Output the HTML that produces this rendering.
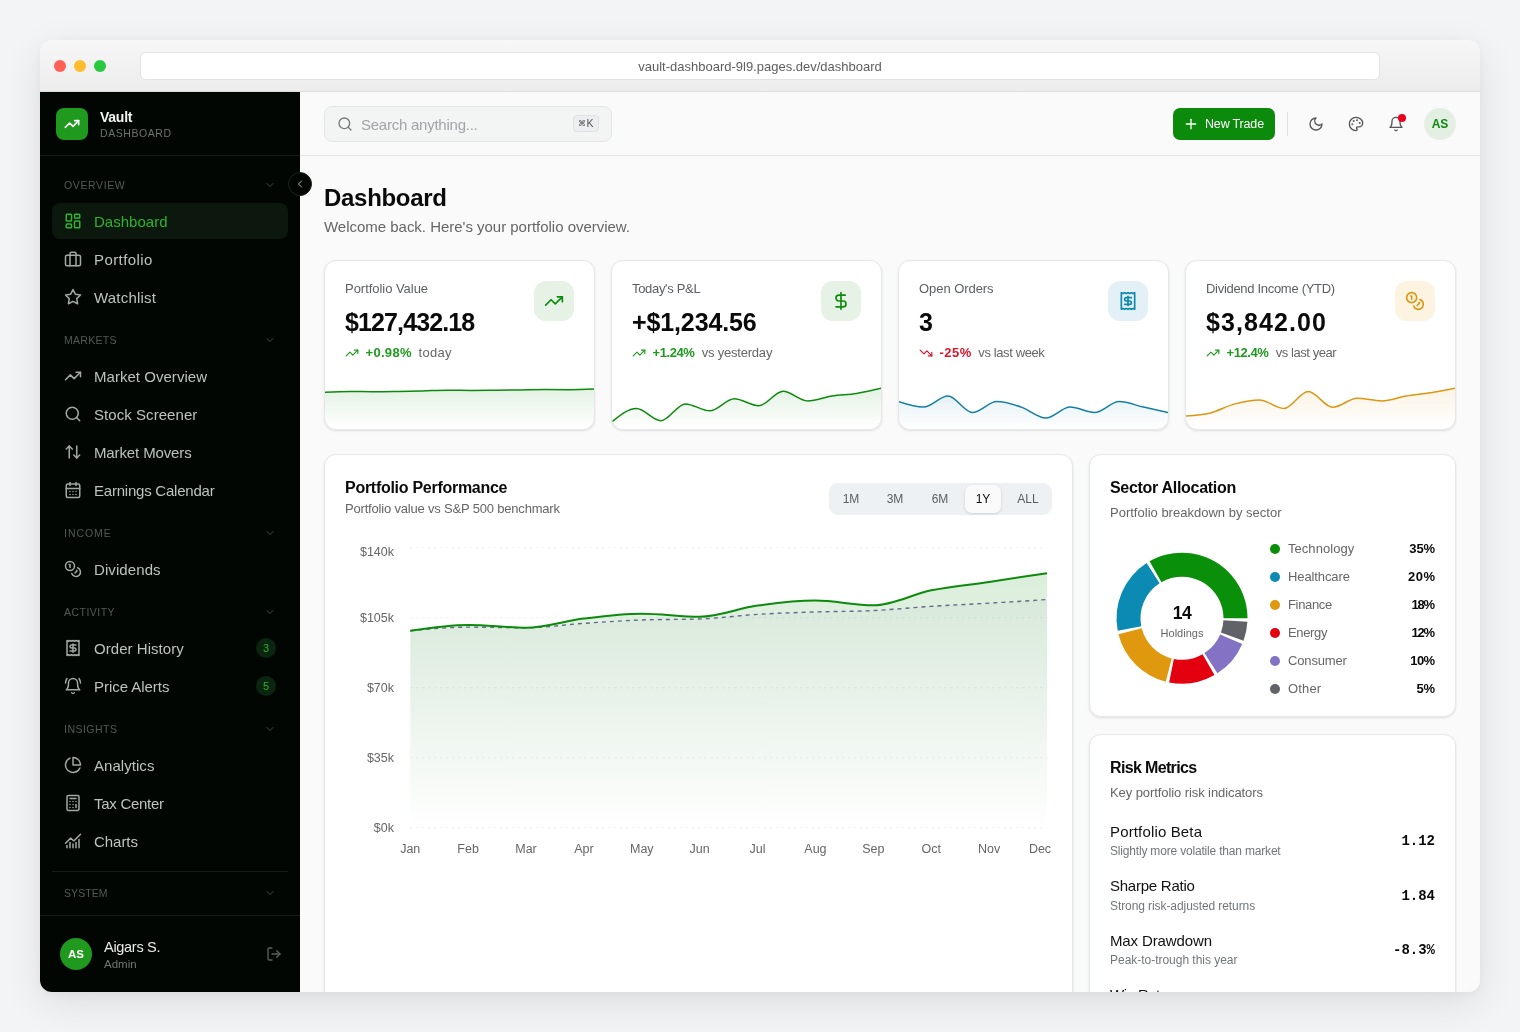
<!DOCTYPE html>
<html lang="en">
<head>
<meta charset="utf-8">
<title>Vault Dashboard</title>
<style>
*{box-sizing:border-box;margin:0;padding:0}
html,body{width:1520px;height:1032px;overflow:hidden}
body{background:#f3f4f6;font-family:"Liberation Sans",sans-serif;color:#0a0a0a;position:relative}
svg{display:block}
.ic{fill:none;stroke:currentColor;stroke-width:2;stroke-linecap:round;stroke-linejoin:round}
.win{position:absolute;left:40px;top:40px;width:1440px;height:952px;border-radius:12px;overflow:hidden;background:#fafafa;box-shadow:0 12px 40px rgba(0,0,0,.09),0 2px 8px rgba(0,0,0,.04)}
.tbar{position:absolute;left:0;top:0;width:1440px;height:52px;background:linear-gradient(#f7f7f7,#ececec);border-bottom:1px solid #dcdcdc}
.dot{position:absolute;top:20px;width:12px;height:12px;border-radius:50%}
.url{position:absolute;left:100px;top:12px;width:1240px;height:28px;background:#fff;border:1px solid #e2e2e2;border-radius:6px;text-align:center;font-size:13px;line-height:27px;color:#5e5e5e}
/* sidebar */
.sb{position:absolute;left:0;top:52px;width:260px;height:900px;background:#020602;color:#c4c8c4}
.sbh{position:absolute;left:0;top:0;width:260px;height:64px;border-bottom:1px solid #161c16}
.logo{position:absolute;left:16px;top:16px;width:32px;height:32px;border-radius:8px;background:#1f9a1f;color:#fff}
.logo svg{position:absolute;left:8px;top:8px;width:16px;height:16px}
.brand{position:absolute;left:60px;top:16px;font-size:14px;font-weight:700;color:#f2f4f2;line-height:18px}
.brand2{position:absolute;left:60px;top:35px;font-size:10.5px;letter-spacing:.9px;color:#6d736d;line-height:12px}
.sec{position:absolute;left:24px;font-size:10.5px;letter-spacing:.8px;color:#535a53;line-height:12px;font-weight:400}
.chev{position:absolute;left:224px;width:12px;height:12px;color:#454c45}
.nav{position:absolute;left:12px;width:236px;height:36px;border-radius:8px;font-size:15px;line-height:36px;color:#bec2be}
.nav svg{position:absolute;left:12px;top:9px;width:18px;height:18px;color:#a3a8a3}
.nav .nt{position:absolute;left:42px;top:1px;white-space:nowrap}
.nav.on{background:#0c170d;color:#2fb42f}
.nav.on svg{color:#2fb42f}
.badge{position:absolute;left:204px;top:8px;width:20px;height:20px;border-radius:50%;background:#0b2610;color:#31ad31;font-size:11px;line-height:20px;text-align:center;font-weight:400}
.sbf{position:absolute;left:0;top:823px;width:260px;height:77px;border-top:1px solid #161c16}
.ava{position:absolute;left:20px;top:22px;width:32px;height:32px;border-radius:50%;background:#1f9a1f;color:#fff;font-size:11.5px;font-weight:700;line-height:32px;text-align:center}
/* main */
.main{position:absolute;left:260px;top:52px;width:1180px;height:900px;background:#fafafa}
.top{position:absolute;left:0;top:0;width:1180px;height:64px;border-bottom:1px solid #e6e6e6;background:#fafafa}
.search{position:absolute;left:24px;top:14px;width:288px;height:36px;border:1px solid #e4e5e6;border-radius:8px;background:#f3f4f4}
.search svg{position:absolute;left:12px;top:9px;width:16px;height:16px;color:#777}
.search .ph{position:absolute;left:36px;top:.5px;line-height:34px;font-size:15px;color:#a2a5a8}
.kbd{position:absolute;left:248px;top:8px;width:26px;height:17px;border:1px solid #dfe1e3;border-radius:4px;background:#eceef0;font-size:10.5px;line-height:15px;text-align:center;color:#555}
.kbd small{font-size:7.5px;vertical-align:1px}
.btn{position:absolute;left:873px;top:16px;width:102px;height:32px;border-radius:7px;background:#0c8a0c;color:#fff;font-size:12.5px;font-weight:400;line-height:32px}
.btn svg{position:absolute;left:10px;top:8px;width:16px;height:16px}
.btn .bt{position:absolute;left:32px;top:0;white-space:nowrap}
.vdiv{position:absolute;left:987px;top:20px;width:1px;height:24px;background:#e2e2e2}
.tic{position:absolute;top:24px;width:16px;height:16px;color:#555}
.ava2{position:absolute;left:1124px;top:16px;width:32px;height:32px;border-radius:50%;background:#e2efe2;color:#0c8a0c;font-size:12px;font-weight:700;line-height:32px;text-align:center}
.toggle{position:absolute;left:-12px;top:80px;width:24px;height:24px;border-radius:50%;background:#020602;border:1px solid #1b221b;color:#b8bcb8;z-index:5}
.toggle svg{position:absolute;left:5px;top:5px;width:12px;height:12px}
h1{position:absolute;left:24px;top:89px;font-size:24px;line-height:34px;font-weight:700;letter-spacing:-.4px;color:#0a0a0a;white-space:nowrap}
.sub{position:absolute;left:24px;top:125px;font-size:15px;line-height:20px;color:#666;white-space:nowrap}
.card{position:absolute;background:#fff;border:1px solid #e6e7e8;border-radius:12px;box-shadow:0 1px 3px rgba(0,0,0,.07),0 1px 2px rgba(0,0,0,.04);overflow:hidden}
.stat{top:168px;width:271px;height:170px}
.stat .lb{position:absolute;left:20px;top:19px;font-size:13px;line-height:18px;color:#5c5f62;white-space:nowrap}
.stat .val{position:absolute;left:20px;top:45px;font-size:25px;line-height:32px;font-weight:700;color:#0a0a0a;white-space:nowrap}
.stat .ib{position:absolute;left:209px;top:20px;width:40px;height:40px;border-radius:12px}
.stat .ib svg{position:absolute;left:10px;top:10px;width:20px;height:20px}
.stat .dl{position:absolute;left:20px;top:83.5px;height:16px;font-size:13px;line-height:16px;white-space:nowrap;display:flex;align-items:center}
.stat .dl svg{width:14px;height:14px;margin-right:6.5px;flex:none}
.stat .dl b{font-weight:700;margin-right:7px}
.stat .dl i{font-style:normal;color:#666}
.stat .sp{position:absolute;left:0;top:108px;width:269px;height:60px}
.up{color:#1e9a1e}.down{color:#d9152a}
.ct{position:absolute;left:20px;font-size:16px;font-weight:700;line-height:22px;color:#0a0a0a;white-space:nowrap;letter-spacing:-.2px}
.cs{position:absolute;left:20px;font-size:13px;line-height:18px;color:#666;white-space:nowrap}
.seg{position:absolute;left:504px;top:28px;width:223px;height:32px;border-radius:9px;background:#eef1f4}
.seg span{position:absolute;top:0;line-height:32px;font-size:12px;color:#5b5e61;width:40px;text-align:center}
.seg .act{position:absolute;left:136px;top:2px;width:36px;height:28px;border-radius:7px;background:#fafafa;box-shadow:0 1px 3px rgba(0,0,0,.14)}
.lg{position:absolute;left:180px;width:166px;height:18px;font-size:13px;line-height:18px;color:#666}
.lg u{position:absolute;left:0;top:4px;width:10px;height:10px;border-radius:50%}
.lg .ln{position:absolute;left:18px;top:0;white-space:nowrap}
.lg b{position:absolute;right:1px;top:0;color:#0a0a0a;font-weight:700}
.rk{position:absolute;left:20px;width:326px;height:44px}
.rk .t{position:absolute;left:0;top:.8px;font-size:15px;line-height:22px;color:#111;white-space:nowrap}
.rk .d{position:absolute;left:0;top:23px;font-size:12px;line-height:16px;color:#737679;white-space:nowrap}
.rk .v{position:absolute;right:1px;top:11px;font-family:"Liberation Mono",monospace;font-weight:700;font-size:14px;line-height:20px;color:#0a0a0a}
.sbdiv{position:absolute;left:12px;top:779px;width:236px;height:1px;background:#161c16}
.un{position:absolute;left:64px;top:22px;font-size:14.5px;line-height:18px;color:#e8ebe8;white-space:nowrap}
.ur{position:absolute;left:64px;top:41px;font-size:11.5px;line-height:14px;color:#707670;white-space:nowrap}
.ndot{position:absolute;left:1098px;top:22px;width:8px;height:8px;border-radius:50%;background:#e8001c}
.chart{position:absolute;left:0;top:0;width:747px;height:540px}
.donut{position:absolute;left:0;top:0;width:365px;height:261px}
.ax{font-size:12.5px;fill:#666;font-family:"Liberation Sans",sans-serif}
.dn{font-size:17.5px;letter-spacing:-.4px;font-weight:700;fill:#0a0a0a;font-family:"Liberation Sans",sans-serif}
.dh{font-size:11px;fill:#666;font-family:"Liberation Sans",sans-serif}
</style>
</head>
<body>
<div class="win">
  <div class="tbar">
    <div class="dot" style="left:14px;background:#ff5f57"></div>
    <div class="dot" style="left:34px;background:#febc2e"></div>
    <div class="dot" style="left:54px;background:#28c840"></div>
    <div class="url">vault-dashboard-9l9.pages.dev/dashboard</div>
  </div>
  <aside class="sb">
    <div class="sbh">
      <div class="logo"><svg class="ic" style="stroke-width:2.4" viewBox="0 0 24 24"><polyline points="22 7 13.5 15.5 8.5 10.5 2 17"/><polyline points="16 7 22 7 22 13"/></svg></div>
      <div class="brand"><span id="t1" style="letter-spacing:-0.242px;margin-right:0.242px">Vault</span></div>
      <div class="brand2"><span id="t2" style="letter-spacing:0.561px;margin-right:-0.561px">DASHBOARD</span></div>
    </div>
    <div class="sec" style="top:87px"><span id="t3" style="letter-spacing:0.613px;margin-right:-0.613px">OVERVIEW</span></div>
    <svg class="ic chev" style="top:87px" viewBox="0 0 24 24"><path d="m6 9 6 6 6-6"/></svg>
    <div class="nav on" style="top:111px"><svg class="ic" viewBox="0 0 24 24"><rect x="3" y="3" width="7" height="9" rx="1"/><rect x="14" y="3" width="7" height="5" rx="1"/><rect x="14" y="12" width="7" height="9" rx="1"/><rect x="3" y="16" width="7" height="5" rx="1"/></svg><span class="nt"><span id="t4" style="letter-spacing:0.014px;margin-right:-0.014px">Dashboard</span></span></div>
    <div class="nav" style="top:149px"><svg class="ic" viewBox="0 0 24 24"><rect x="2" y="7" width="20" height="14" rx="2"/><path d="M16 21V5a2 2 0 0 0-2-2h-4a2 2 0 0 0-2 2v16"/></svg><span class="nt"><span id="t5" style="letter-spacing:0.409px;margin-right:-0.409px">Portfolio</span></span></div>
    <div class="nav" style="top:187px"><svg class="ic" viewBox="0 0 24 24"><polygon points="12 2 15.09 8.26 22 9.27 17 14.14 18.18 21.02 12 17.77 5.82 21.02 7 14.14 2 9.27 8.91 8.26 12 2"/></svg><span class="nt"><span id="t6" style="letter-spacing:0.213px;margin-right:-0.213px">Watchlist</span></span></div>
    <div class="sec" style="top:242px"><span id="t7" style="letter-spacing:0.272px;margin-right:-0.272px">MARKETS</span></div>
    <svg class="ic chev" style="top:242px" viewBox="0 0 24 24"><path d="m6 9 6 6 6-6"/></svg>
    <div class="nav" style="top:266px"><svg class="ic" viewBox="0 0 24 24"><polyline points="22 7 13.5 15.5 8.5 10.5 2 17"/><polyline points="16 7 22 7 22 13"/></svg><span class="nt"><span id="t8" style="letter-spacing:0.033px;margin-right:-0.033px">Market Overview</span></span></div>
    <div class="nav" style="top:304px"><svg class="ic" viewBox="0 0 24 24"><circle cx="11" cy="11" r="8"/><path d="m21 21-4.300-4.300"/></svg><span class="nt"><span id="t9" style="letter-spacing:0.058px;margin-right:-0.058px">Stock Screener</span></span></div>
    <div class="nav" style="top:342px"><svg class="ic" viewBox="0 0 24 24"><path d="m21 16-4 4-4-4"/><path d="M17 20V4"/><path d="m3 8 4-4 4 4"/><path d="M7 4v16"/></svg><span class="nt"><span id="t10" style="letter-spacing:-0.124px;margin-right:0.124px">Market Movers</span></span></div>
    <div class="nav" style="top:380px"><svg class="ic" viewBox="0 0 24 24"><path d="M8 2v4"/><path d="M16 2v4"/><rect width="18" height="18" x="3" y="4" rx="2"/><path d="M3 10h18"/><path d="M8 14h.01"/><path d="M12 14h.01"/><path d="M16 14h.01"/><path d="M8 18h.01"/><path d="M12 18h.01"/><path d="M16 18h.01"/></svg><span class="nt"><span id="t11" style="letter-spacing:-0.222px;margin-right:0.222px">Earnings Calendar</span></span></div>
    <div class="sec" style="top:435px"><span id="t12" style="letter-spacing:0.960px;margin-right:-0.960px">INCOME</span></div>
    <svg class="ic chev" style="top:435px" viewBox="0 0 24 24"><path d="m6 9 6 6 6-6"/></svg>
    <div class="nav" style="top:459px"><svg class="ic" viewBox="0 0 24 24"><circle cx="8" cy="8" r="6"/><path d="M18.090 10.370A6 6 0 1 1 10.340 18"/><path d="M7 6h1v4"/><path d="m16.710 13.880.7.710-2.820 2.820"/></svg><span class="nt"><span id="t13" style="letter-spacing:0.091px;margin-right:-0.091px">Dividends</span></span></div>
    <div class="sec" style="top:514px"><span id="t14" style="letter-spacing:0.476px;margin-right:-0.476px">ACTIVITY</span></div>
    <svg class="ic chev" style="top:514px" viewBox="0 0 24 24"><path d="m6 9 6 6 6-6"/></svg>
    <div class="nav" style="top:538px"><svg class="ic" viewBox="0 0 24 24"><path d="M4 2v20l2-1 2 1 2-1 2 1 2-1 2 1 2-1 2 1V2l-2 1-2-1-2 1-2-1-2 1-2-1-2 1Z"/><path d="M16 8h-6a2 2 0 1 0 0 4h4a2 2 0 1 1 0 4H8"/><path d="M12 17.500v-11"/></svg><span class="nt"><span id="t15" style="letter-spacing:0.043px;margin-right:-0.043px">Order History</span></span><div class="badge">3</div></div>
    <div class="nav" style="top:576px"><svg class="ic" viewBox="0 0 24 24"><path d="M6 8a6 6 0 0 1 12 0c0 7 3 9 3 9H3s3-2 3-9"/><path d="M10.300 21a1.940 1.940 0 0 0 3.400 0"/><path d="M4 2C2.800 3.700 2 5.700 2 8"/><path d="M22 8c0-2.300-.8-4.300-2-6"/></svg><span class="nt"><span id="t16" style="letter-spacing:-0.042px;margin-right:0.042px">Price Alerts</span></span><div class="badge">5</div></div>
    <div class="sec" style="top:631px"><span id="t17" style="letter-spacing:0.487px;margin-right:-0.487px">INSIGHTS</span></div>
    <svg class="ic chev" style="top:631px" viewBox="0 0 24 24"><path d="m6 9 6 6 6-6"/></svg>
    <div class="nav" style="top:655px"><svg class="ic" viewBox="0 0 24 24"><path d="M21.210 15.890A10 10 0 1 1 8 2.830"/><path d="M22 12A10 10 0 0 0 12 2v10z"/></svg><span class="nt"><span id="t18" style="letter-spacing:0.046px;margin-right:-0.046px">Analytics</span></span></div>
    <div class="nav" style="top:693px"><svg class="ic" viewBox="0 0 24 24"><rect width="16" height="20" x="4" y="2" rx="2"/><line x1="8" x2="16" y1="6" y2="6"/><line x1="16" x2="16" y1="14" y2="18"/><path d="M16 10h.01"/><path d="M12 10h.01"/><path d="M8 10h.01"/><path d="M12 14h.01"/><path d="M8 14h.01"/><path d="M12 18h.01"/><path d="M8 18h.01"/></svg><span class="nt"><span id="t19" style="letter-spacing:-0.272px;margin-right:0.272px">Tax Center</span></span></div>
    <div class="nav" style="top:731px"><svg class="ic" viewBox="0 0 24 24"><path d="M12 16v5"/><path d="M16 14v7"/><path d="M20 10v11"/><path d="m22 3-8.646 8.646a.5.5 0 0 1-.708 0L9.354 8.354a.5.5 0 0 0-.707 0L2 15"/><path d="M4 18v3"/><path d="M8 14v7"/></svg><span class="nt"><span id="t20" style="letter-spacing:-0.037px;margin-right:0.037px">Charts</span></span></div>
    <div class="sbdiv"></div>
    <div class="sec" style="top:795px"><span id="t21" style="letter-spacing:0.062px;margin-right:-0.062px">SYSTEM</span></div>
    <svg class="ic chev" style="top:795px" viewBox="0 0 24 24"><path d="m6 9 6 6 6-6"/></svg>
    <div class="sbf">
      <div class="ava">AS</div>
      <div class="un"><span id="t22" style="letter-spacing:-0.293px;margin-right:0.293px">Aigars S.</span></div>
      <div class="ur"><span id="t23" style="letter-spacing:-0.002px;margin-right:0.002px">Admin</span></div>
      <svg class="ic" style="position:absolute;left:226px;top:30px;width:16px;height:16px;color:#5a615a" viewBox="0 0 24 24"><path d="M9 21H5a2 2 0 0 1-2-2V5a2 2 0 0 1 2-2h4"/><polyline points="16 17 21 12 16 7"/><line x1="21" x2="9" y1="12" y2="12"/></svg>
    </div>
  </aside>
  <main class="main">
    <div class="top">
      <div class="search"><svg class="ic" viewBox="0 0 24 24"><circle cx="11" cy="11" r="8"/><path d="m21 21-4.300-4.300"/></svg><span class="ph"><span id="t24" style="letter-spacing:-0.245px;margin-right:0.245px">Search anything...</span></span><div class="kbd"><small>&#8984;</small>K</div></div>
      <div class="btn"><svg class="ic" viewBox="0 0 24 24"><path d="M5 12h14"/><path d="M12 5v14"/></svg><span class="bt"><span id="t25" style="letter-spacing:-0.169px;margin-right:0.169px">New Trade</span></span></div>
      <div class="vdiv"></div>
      <svg class="ic tic" style="left:1008px" viewBox="0 0 24 24"><path d="M12 3a6 6 0 0 0 9 9 9 9 0 1 1-9-9Z"/></svg>
      <svg class="ic tic" style="left:1048px" viewBox="0 0 24 24"><circle cx="13.500" cy="6.500" r=".5" fill="currentColor"/><circle cx="17.500" cy="10.500" r=".5" fill="currentColor"/><circle cx="8.500" cy="7.500" r=".5" fill="currentColor"/><circle cx="6.500" cy="12.500" r=".5" fill="currentColor"/><path d="M12 2C6.500 2 2 6.500 2 12s4.500 10 10 10c.926 0 1.648-.746 1.648-1.688 0-.437-.180-.835-.437-1.125-.290-.289-.438-.652-.438-1.125a1.640 1.640 0 0 1 1.668-1.668h1.996c3.051 0 5.555-2.503 5.555-5.554C21.965 6.012 17.461 2 12 2z"/></svg>
      <svg class="ic tic" style="left:1088px" viewBox="0 0 24 24"><path d="M6 8a6 6 0 0 1 12 0c0 7 3 9 3 9H3s3-2 3-9"/><path d="M10.300 21a1.940 1.940 0 0 0 3.400 0"/></svg>
      <div class="ndot"></div>
      <div class="ava2">AS</div>
    </div>
    <h1><span id="t26" style="letter-spacing:-0.295px;margin-right:0.295px">Dashboard</span></h1>
    <div class="sub"><span id="t27" style="letter-spacing:-0.020px;margin-right:0.020px">Welcome back. Here's your portfolio overview.</span></div>
    <div class="card stat" style="left:24px">
      <div class="lb"><span id="t28" style="letter-spacing:-0.035px;margin-right:0.035px">Portfolio Value</span></div>
      <div class="val"><span id="t29" style="letter-spacing:-0.883px;margin-right:0.883px">$127,432.18</span></div>
      <div class="ib" style="background:#e6f2e6;color:#0c8a0c"><svg class="ic" viewBox="0 0 24 24"><polyline points="22 7 13.5 15.5 8.5 10.5 2 17"/><polyline points="16 7 22 7 22 13"/></svg></div>
      <div class="dl up"><svg class="ic" viewBox="0 0 24 24"><polyline points="22 7 13.5 15.5 8.5 10.5 2 17"/><polyline points="16 7 22 7 22 13"/></svg><b><span id="t30" style="letter-spacing:0.309px;margin-right:-0.309px">+0.98%</span></b><i><span id="t31" style="letter-spacing:0.297px;margin-right:-0.297px">today</span></i></div>
      <svg class="sp" viewBox="0 0 269 60" preserveAspectRatio="none"><defs><linearGradient id="g1" x1="0" y1="0" x2="0" y2="1"><stop offset="0" stop-color="#0c8a0c" stop-opacity="0.11"/><stop offset="1" stop-color="#0c8a0c" stop-opacity="0"/></linearGradient></defs><path d="M0.00 23.20 C8.15 22.80 16.30 22.40 24.45 22.40 C32.61 22.40 40.76 22.70 48.91 22.70 C57.06 22.70 65.21 22.53 73.36 22.40 C81.52 22.27 89.67 22.10 97.82 21.90 C105.97 21.70 114.12 21.20 122.27 21.20 C130.42 21.20 138.58 21.40 146.73 21.40 C154.88 21.40 163.03 21.28 171.18 21.20 C179.33 21.12 187.48 21.00 195.64 20.90 C203.79 20.80 211.94 20.60 220.09 20.60 C228.24 20.60 236.39 20.70 244.55 20.70 C252.70 20.70 260.85 20.40 269.00 20.10 L269.00 60.00 L0 60.00 Z" fill="url(#g1)"/><path d="M0.00 23.20 C8.15 22.80 16.30 22.40 24.45 22.40 C32.61 22.40 40.76 22.70 48.91 22.70 C57.06 22.70 65.21 22.53 73.36 22.40 C81.52 22.27 89.67 22.10 97.82 21.90 C105.97 21.70 114.12 21.20 122.27 21.20 C130.42 21.20 138.58 21.40 146.73 21.40 C154.88 21.40 163.03 21.28 171.18 21.20 C179.33 21.12 187.48 21.00 195.64 20.90 C203.79 20.80 211.94 20.60 220.09 20.60 C228.24 20.60 236.39 20.70 244.55 20.70 C252.70 20.70 260.85 20.40 269.00 20.10" fill="none" stroke="#0c8a0c" stroke-width="1.5" stroke-linecap="round"/></svg>
    </div>
    <div class="card stat" style="left:311px">
      <div class="lb"><span id="t32" style="letter-spacing:-0.316px;margin-right:0.316px">Today's P&amp;L</span></div>
      <div class="val"><span id="t33" style="letter-spacing:-0.125px;margin-right:0.125px">+$1,234.56</span></div>
      <div class="ib" style="background:#e6f2e6;color:#0c8a0c"><svg class="ic" viewBox="0 0 24 24"><line x1="12" x2="12" y1="2" y2="22"/><path d="M17 5H9.500a3.500 3.500 0 0 0 0 7h5a3.500 3.500 0 0 1 0 7H6"/></svg></div>
      <div class="dl up"><svg class="ic" viewBox="0 0 24 24"><polyline points="22 7 13.5 15.5 8.5 10.5 2 17"/><polyline points="16 7 22 7 22 13"/></svg><b><span id="t34" style="letter-spacing:-0.431px;margin-right:0.431px">+1.24%</span></b><i><span id="t35" style="letter-spacing:-0.217px;margin-right:0.217px">vs yesterday</span></i></div>
      <svg class="sp" viewBox="0 0 269 60" preserveAspectRatio="none"><defs><linearGradient id="g2" x1="0" y1="0" x2="0" y2="1"><stop offset="0" stop-color="#0c8a0c" stop-opacity="0.11"/><stop offset="1" stop-color="#0c8a0c" stop-opacity="0"/></linearGradient></defs><path d="M0.00 52.80 C8.15 46.15 16.30 39.50 24.45 39.50 C32.61 39.50 40.76 51.70 48.91 51.70 C57.06 51.70 65.21 34.90 73.36 34.90 C81.52 34.90 89.67 41.80 97.82 41.80 C105.97 41.80 114.12 29.80 122.27 29.80 C130.42 29.80 138.58 36.80 146.73 36.80 C154.88 36.80 163.03 22.30 171.18 22.30 C179.33 22.30 187.48 31.90 195.64 31.90 C203.79 31.90 211.94 28.15 220.09 26.90 C228.24 25.65 236.39 25.67 244.55 24.40 C252.70 23.13 260.85 21.22 269.00 19.30 L269.00 60.00 L0 60.00 Z" fill="url(#g2)"/><path d="M0.00 52.80 C8.15 46.15 16.30 39.50 24.45 39.50 C32.61 39.50 40.76 51.70 48.91 51.70 C57.06 51.70 65.21 34.90 73.36 34.90 C81.52 34.90 89.67 41.80 97.82 41.80 C105.97 41.80 114.12 29.80 122.27 29.80 C130.42 29.80 138.58 36.80 146.73 36.80 C154.88 36.80 163.03 22.30 171.18 22.30 C179.33 22.30 187.48 31.90 195.64 31.90 C203.79 31.90 211.94 28.15 220.09 26.90 C228.24 25.65 236.39 25.67 244.55 24.40 C252.70 23.13 260.85 21.22 269.00 19.30" fill="none" stroke="#0c8a0c" stroke-width="1.5" stroke-linecap="round"/></svg>
    </div>
    <div class="card stat" style="left:598px">
      <div class="lb"><span id="t36" style="letter-spacing:-0.056px;margin-right:0.056px">Open Orders</span></div>
      <div class="val"><span id="t37">3</span></div>
      <div class="ib" style="background:#e3f1f6;color:#0e86ad"><svg class="ic" viewBox="0 0 24 24"><path d="M4 2v20l2-1 2 1 2-1 2 1 2-1 2 1 2-1 2 1V2l-2 1-2-1-2 1-2-1-2 1-2-1-2 1Z"/><path d="M16 8h-6a2 2 0 1 0 0 4h4a2 2 0 1 1 0 4H8"/><path d="M12 17.500v-11"/></svg></div>
      <div class="dl down"><svg class="ic" viewBox="0 0 24 24"><polyline points="22 17 13.5 8.5 8.5 13.5 2 7"/><polyline points="16 17 22 17 22 11"/></svg><b><span id="t38" style="letter-spacing:0.480px;margin-right:-0.480px">-25%</span></b><i><span id="t39" style="letter-spacing:-0.392px;margin-right:0.392px">vs last week</span></i></div>
      <svg class="sp" viewBox="0 0 269 60" preserveAspectRatio="none"><defs><linearGradient id="g3" x1="0" y1="0" x2="0" y2="1"><stop offset="0" stop-color="#147fa5" stop-opacity="0.11"/><stop offset="1" stop-color="#147fa5" stop-opacity="0"/></linearGradient></defs><path d="M0.00 32.60 C8.15 35.35 16.30 38.10 24.45 38.10 C32.61 38.10 40.76 27.10 48.91 27.10 C57.06 27.10 65.21 43.50 73.36 43.50 C81.52 43.50 89.67 32.60 97.82 32.60 C105.97 32.60 114.12 35.37 122.27 38.10 C130.42 40.83 138.58 49.00 146.73 49.00 C154.88 49.00 163.03 38.10 171.18 38.10 C179.33 38.10 187.48 43.50 195.64 43.50 C203.79 43.50 211.94 32.60 220.09 32.60 C228.24 32.60 236.39 36.28 244.55 38.10 C252.70 39.92 260.85 41.71 269.00 43.50 L269.00 60.00 L0 60.00 Z" fill="url(#g3)"/><path d="M0.00 32.60 C8.15 35.35 16.30 38.10 24.45 38.10 C32.61 38.10 40.76 27.10 48.91 27.10 C57.06 27.10 65.21 43.50 73.36 43.50 C81.52 43.50 89.67 32.60 97.82 32.60 C105.97 32.60 114.12 35.37 122.27 38.10 C130.42 40.83 138.58 49.00 146.73 49.00 C154.88 49.00 163.03 38.10 171.18 38.10 C179.33 38.10 187.48 43.50 195.64 43.50 C203.79 43.50 211.94 32.60 220.09 32.60 C228.24 32.60 236.39 36.28 244.55 38.10 C252.70 39.92 260.85 41.71 269.00 43.50" fill="none" stroke="#147fa5" stroke-width="1.5" stroke-linecap="round"/></svg>
    </div>
    <div class="card stat" style="left:885px">
      <div class="lb"><span id="t40" style="letter-spacing:-0.300px;margin-right:0.300px">Dividend Income (YTD)</span></div>
      <div class="val"><span id="t41" style="letter-spacing:1.098px;margin-right:-1.098px">$3,842.00</span></div>
      <div class="ib" style="background:#fcf3e1;color:#dc9712"><svg class="ic" viewBox="0 0 24 24"><circle cx="8" cy="8" r="6"/><path d="M18.090 10.370A6 6 0 1 1 10.340 18"/><path d="M7 6h1v4"/><path d="m16.710 13.880.7.710-2.820 2.820"/></svg></div>
      <div class="dl up"><svg class="ic" viewBox="0 0 24 24"><polyline points="22 7 13.5 15.5 8.5 10.5 2 17"/><polyline points="16 7 22 7 22 13"/></svg><b><span id="t42" style="letter-spacing:-0.431px;margin-right:0.431px">+12.4%</span></b><i><span id="t43" style="letter-spacing:-0.450px;margin-right:0.450px">vs last year</span></i></div>
      <svg class="sp" viewBox="0 0 269 60" preserveAspectRatio="none"><defs><linearGradient id="g4" x1="0" y1="0" x2="0" y2="1"><stop offset="0" stop-color="#dc9712" stop-opacity="0.11"/><stop offset="1" stop-color="#dc9712" stop-opacity="0"/></linearGradient></defs><path d="M0.00 47.10 C8.15 46.52 16.30 45.93 24.45 43.90 C32.61 41.87 40.76 37.07 48.91 34.90 C57.06 32.73 65.21 30.90 73.36 30.90 C81.52 30.90 89.67 39.50 97.82 39.50 C105.97 39.50 114.12 22.50 122.27 22.50 C130.42 22.50 138.58 38.30 146.73 38.30 C154.88 38.30 163.03 29.20 171.18 29.20 C179.33 29.20 187.48 32.00 195.64 32.00 C203.79 32.00 211.94 28.47 220.09 27.10 C228.24 25.73 236.39 25.10 244.55 23.80 C252.70 22.50 260.85 20.90 269.00 19.30 L269.00 60.00 L0 60.00 Z" fill="url(#g4)"/><path d="M0.00 47.10 C8.15 46.52 16.30 45.93 24.45 43.90 C32.61 41.87 40.76 37.07 48.91 34.90 C57.06 32.73 65.21 30.90 73.36 30.90 C81.52 30.90 89.67 39.50 97.82 39.50 C105.97 39.50 114.12 22.50 122.27 22.50 C130.42 22.50 138.58 38.30 146.73 38.30 C154.88 38.30 163.03 29.20 171.18 29.20 C179.33 29.20 187.48 32.00 195.64 32.00 C203.79 32.00 211.94 28.47 220.09 27.10 C228.24 25.73 236.39 25.10 244.55 23.80 C252.70 22.50 260.85 20.90 269.00 19.30" fill="none" stroke="#dc9712" stroke-width="1.5" stroke-linecap="round"/></svg>
    </div>
    <div class="card" style="left:24px;top:362px;width:749px;height:560px">
      <svg class="chart" viewBox="0 0 747 540"><defs><linearGradient id="gp" gradientUnits="userSpaceOnUse" x1="0" y1="118" x2="0" y2="373"><stop offset="0" stop-color="#0c8a0c" stop-opacity=".15"/><stop offset="1" stop-color="#0c8a0c" stop-opacity="0"/></linearGradient><linearGradient id="gb" gradientUnits="userSpaceOnUse" x1="0" y1="145" x2="0" y2="373"><stop offset="0" stop-color="#64748b" stop-opacity=".05"/><stop offset="1" stop-color="#6b6f9e" stop-opacity="0"/></linearGradient></defs><line x1="85.25" x2="722.00" y1="92.75" y2="92.75" stroke="#eaecef" stroke-width="1" stroke-dasharray="2 4"/><line x1="85.25" x2="722.00" y1="162.75" y2="162.75" stroke="#eaecef" stroke-width="1" stroke-dasharray="2 4"/><line x1="85.25" x2="722.00" y1="232.75" y2="232.75" stroke="#eaecef" stroke-width="1" stroke-dasharray="2 4"/><line x1="85.25" x2="722.00" y1="302.75" y2="302.75" stroke="#eaecef" stroke-width="1" stroke-dasharray="2 4"/><line x1="85.25" x2="722.00" y1="372.75" y2="372.75" stroke="#eaecef" stroke-width="1" stroke-dasharray="2 4"/><path d="M85.25 175.75 C104.55 172.85 123.84 169.95 143.14 169.95 C162.43 169.95 181.73 172.75 201.02 172.75 C220.32 172.75 239.61 165.88 258.91 163.55 C278.20 161.22 297.50 158.75 316.80 158.75 C336.09 158.75 355.39 161.75 374.68 161.75 C393.98 161.75 413.27 153.25 432.57 150.55 C451.86 147.85 471.16 145.55 490.45 145.55 C509.75 145.55 529.05 150.35 548.34 150.35 C567.64 150.35 586.93 139.25 606.23 135.35 C625.52 131.45 644.82 129.82 664.11 126.95 C683.41 124.08 702.70 121.12 722.00 118.15 L722.00 372.75 L85.25 372.75 Z" fill="url(#gp)"/><path d="M85.25 175.75 C104.55 173.95 123.84 172.15 143.14 172.15 C162.43 172.15 181.73 172.75 201.02 172.75 C220.32 172.75 239.61 169.65 258.91 168.35 C278.20 167.05 297.50 165.62 316.80 164.95 C336.09 164.28 355.39 164.62 374.68 163.95 C393.98 163.28 413.27 160.52 432.57 159.35 C451.86 158.18 471.16 157.58 490.45 156.95 C509.75 156.32 529.05 156.48 548.34 155.55 C567.64 154.62 586.93 152.58 606.23 151.35 C625.52 150.12 644.82 149.28 664.11 148.15 C683.41 147.02 702.70 145.78 722.00 144.55 L722.00 372.75 L85.25 372.75 Z" fill="url(#gb)"/><path d="M85.25 175.75 C104.55 173.95 123.84 172.15 143.14 172.15 C162.43 172.15 181.73 172.75 201.02 172.75 C220.32 172.75 239.61 169.65 258.91 168.35 C278.20 167.05 297.50 165.62 316.80 164.95 C336.09 164.28 355.39 164.62 374.68 163.95 C393.98 163.28 413.27 160.52 432.57 159.35 C451.86 158.18 471.16 157.58 490.45 156.95 C509.75 156.32 529.05 156.48 548.34 155.55 C567.64 154.62 586.93 152.58 606.23 151.35 C625.52 150.12 644.82 149.28 664.11 148.15 C683.41 147.02 702.70 145.78 722.00 144.55" fill="none" stroke="#626a8c" stroke-width="1.4" stroke-dasharray="4 4"/><path d="M85.25 175.75 C104.55 172.85 123.84 169.95 143.14 169.95 C162.43 169.95 181.73 172.75 201.02 172.75 C220.32 172.75 239.61 165.88 258.91 163.55 C278.20 161.22 297.50 158.75 316.80 158.75 C336.09 158.75 355.39 161.75 374.68 161.75 C393.98 161.75 413.27 153.25 432.57 150.55 C451.86 147.85 471.16 145.55 490.45 145.55 C509.75 145.55 529.05 150.35 548.34 150.35 C567.64 150.35 586.93 139.25 606.23 135.35 C625.52 131.45 644.82 129.82 664.11 126.95 C683.41 124.08 702.70 121.12 722.00 118.15" fill="none" stroke="#0c8a0c" stroke-width="2"/><text x="69" y="101.25" text-anchor="end" class="ax">$140k</text><text x="69" y="167.25" text-anchor="end" class="ax">$105k</text><text x="69" y="237.25" text-anchor="end" class="ax">$70k</text><text x="69" y="307.25" text-anchor="end" class="ax">$35k</text><text x="69" y="377.25" text-anchor="end" class="ax">$0k</text><text x="85.25" y="398" text-anchor="middle" class="ax">Jan</text><text x="143.14" y="398" text-anchor="middle" class="ax">Feb</text><text x="201.02" y="398" text-anchor="middle" class="ax">Mar</text><text x="258.91" y="398" text-anchor="middle" class="ax">Apr</text><text x="316.80" y="398" text-anchor="middle" class="ax">May</text><text x="374.68" y="398" text-anchor="middle" class="ax">Jun</text><text x="432.57" y="398" text-anchor="middle" class="ax">Jul</text><text x="490.45" y="398" text-anchor="middle" class="ax">Aug</text><text x="548.34" y="398" text-anchor="middle" class="ax">Sep</text><text x="606.23" y="398" text-anchor="middle" class="ax">Oct</text><text x="664.11" y="398" text-anchor="middle" class="ax">Nov</text><text x="715.00" y="398" text-anchor="middle" class="ax">Dec</text></svg>
      <div class="ct" style="top:22px"><span id="t44" style="letter-spacing:-0.277px;margin-right:0.277px">Portfolio Performance</span></div>
      <div class="cs" style="top:45px"><span id="t45" style="letter-spacing:-0.189px;margin-right:0.189px">Portfolio value vs S&amp;P 500 benchmark</span></div>
      <div class="seg"><div class="act"></div><span style="left:2px">1M</span><span style="left:46px">3M</span><span style="left:91px">6M</span><span style="left:134px;color:#0a0a0a">1Y</span><span style="left:179px">ALL</span></div>
    </div>
    <div class="card" style="left:789px;top:362px;width:367px;height:263px">
      <svg class="donut" viewBox="0 0 365 261"><path d="M157.50 163.20 A65.5 65.5 0 0 0 59.55 106.30 L71.44 127.15 A41.5 41.5 0 0 1 133.50 163.20 Z" fill="#0a8f0a" /><path d="M56.61 108.08 A65.5 65.5 0 0 0 27.73 175.81 L51.28 171.19 A41.5 41.5 0 0 1 69.58 128.28 Z" fill="#0b8ab3" /><path d="M28.47 179.16 A65.5 65.5 0 0 0 75.78 226.66 L81.72 203.41 A41.5 41.5 0 0 1 51.75 173.31 Z" fill="#e0980f" /><path d="M79.12 227.42 A65.5 65.5 0 0 0 124.45 220.10 L112.56 199.25 A41.5 41.5 0 0 1 83.84 203.89 Z" fill="#e3000f" /><path d="M127.39 218.32 A65.5 65.5 0 0 0 152.25 188.90 L130.17 179.48 A41.5 41.5 0 0 1 114.42 198.12 Z" fill="#8472c4" /><path d="M153.51 185.71 A65.5 65.5 0 0 0 157.41 166.63 L133.44 165.37 A41.5 41.5 0 0 1 130.97 177.46 Z" fill="#5f6368" /><text x="92.0" y="164.2" text-anchor="middle" class="dn">14</text><text x="92.0" y="182.2" text-anchor="middle" class="dh">Holdings</text></svg>
      <div class="ct" style="top:22px"><span id="t58" style="letter-spacing:-0.299px;margin-right:0.299px">Sector Allocation</span></div>
      <div class="cs" style="top:49px"><span id="t59" style="letter-spacing:0.008px;margin-right:-0.008px">Portfolio breakdown by sector</span></div>
      <div class="lg" style="top:84.5px"><u style="background:#0a8f0a"></u><span class="ln"><span id="t46" style="letter-spacing:0.047px;margin-right:-0.047px">Technology</span></span><b><span id="t47" style="letter-spacing:-0.166px;margin-right:0.166px">35%</span></b></div><div class="lg" style="top:112.5px"><u style="background:#0b8ab3"></u><span class="ln"><span id="t48" style="letter-spacing:-0.108px;margin-right:0.108px">Healthcare</span></span><b><span id="t49" style="letter-spacing:0.534px;margin-right:-0.534px">20%</span></b></div><div class="lg" style="top:140.5px"><u style="background:#e0980f"></u><span class="ln"><span id="t50" style="letter-spacing:-0.342px;margin-right:0.342px">Finance</span></span><b><span id="t51" style="letter-spacing:-1.216px;margin-right:1.216px">18%</span></b></div><div class="lg" style="top:168.5px"><u style="background:#e3000f"></u><span class="ln"><span id="t52" style="letter-spacing:-0.361px;margin-right:0.361px">Energy</span></span><b><span id="t53" style="letter-spacing:-1.216px;margin-right:1.216px">12%</span></b></div><div class="lg" style="top:196.5px"><u style="background:#8472c4"></u><span class="ln"><span id="t54" style="letter-spacing:-0.153px;margin-right:0.153px">Consumer</span></span><b><span id="t55" style="letter-spacing:-0.666px;margin-right:0.666px">10%</span></b></div><div class="lg" style="top:224.5px"><u style="background:#5f6368"></u><span class="ln"><span id="t56" style="letter-spacing:0.146px;margin-right:-0.146px">Other</span></span><b><span id="t57" style="letter-spacing:-0.397px;margin-right:0.397px">5%</span></b></div>
    </div>
    <div class="card" style="left:789px;top:642px;width:367px;height:300px">
      <div class="ct" style="top:22px"><span id="t68" style="letter-spacing:-0.651px;margin-right:0.651px">Risk Metrics</span></div>
      <div class="cs" style="top:49px"><span id="t69" style="letter-spacing:-0.084px;margin-right:0.084px">Key portfolio risk indicators</span></div>
      <div class="rk" style="top:85.0px"><div class="t"><span id="t60" style="letter-spacing:0.149px;margin-right:-0.149px">Portfolio Beta</span></div><div class="d"><span id="t61" style="letter-spacing:-0.183px;margin-right:0.183px">Slightly more volatile than market</span></div><div class="v">1.12</div></div><div class="rk" style="top:139.5px"><div class="t"><span id="t62" style="letter-spacing:-0.242px;margin-right:0.242px">Sharpe Ratio</span></div><div class="d"><span id="t63" style="letter-spacing:-0.082px;margin-right:0.082px">Strong risk-adjusted returns</span></div><div class="v">1.84</div></div><div class="rk" style="top:194.0px"><div class="t"><span id="t64" style="letter-spacing:-0.125px;margin-right:0.125px">Max Drawdown</span></div><div class="d"><span id="t65" style="letter-spacing:-0.024px;margin-right:0.024px">Peak-to-trough this year</span></div><div class="v">-8.3%</div></div><div class="rk" style="top:248.5px"><div class="t"><span id="t66" style="letter-spacing:-0.527px;margin-right:0.527px">Win Rate</span></div><div class="d"><span id="t67" style="letter-spacing:-0.234px;margin-right:0.234px">Profitable trades this year</span></div><div class="v">68%</div></div>
    </div>
    <div class="toggle"><svg class="ic" viewBox="0 0 24 24"><path d="m15 18-6-6 6-6"/></svg></div>
  </main>
</div>
</body>
</html>
